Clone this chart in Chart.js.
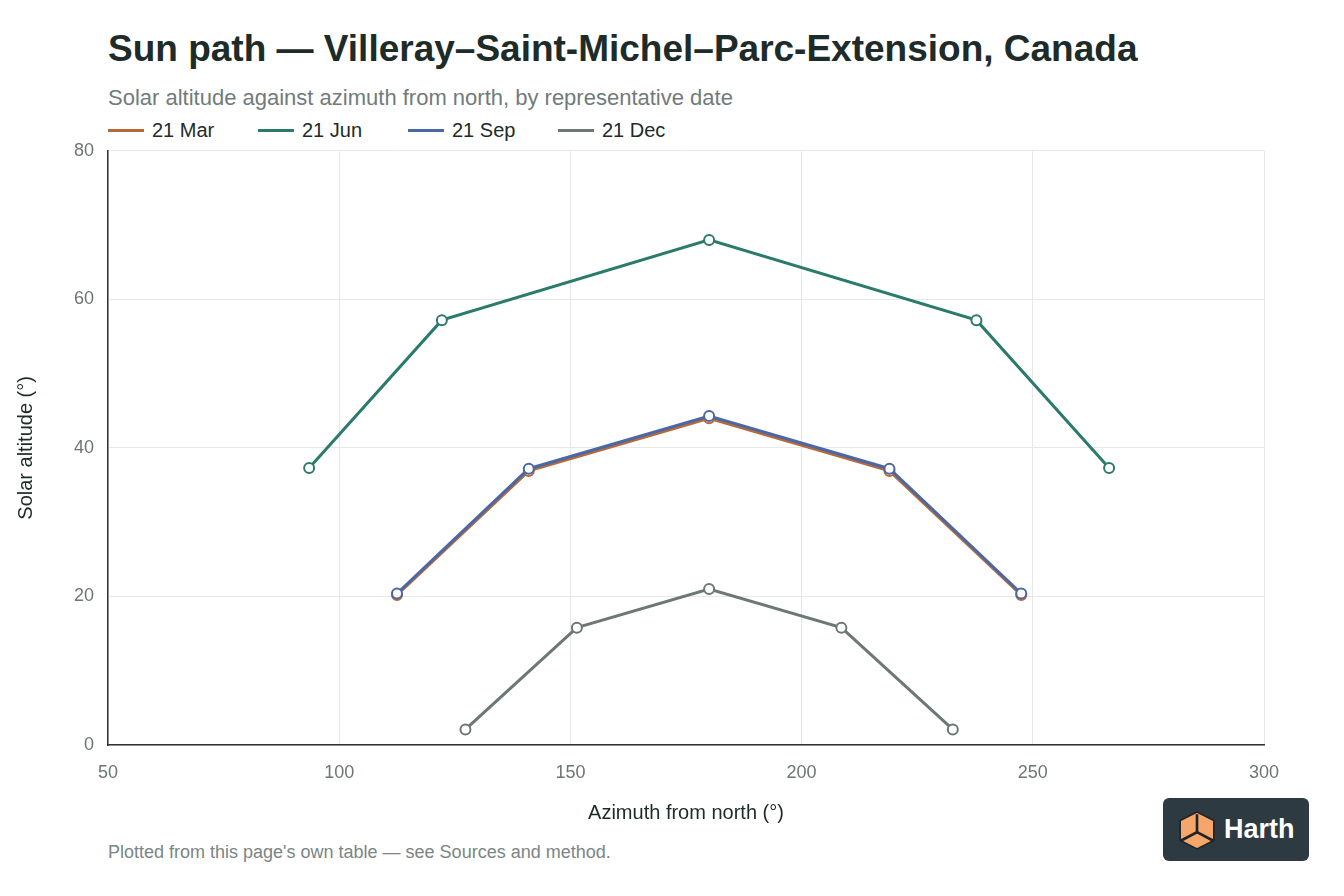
<!DOCTYPE html>
<html>
<head>
<meta charset="utf-8">
<script src="https://cdn.jsdelivr.net/npm/chart.js@4.4.1/dist/chart.umd.min.js"></script>
<style>
	body { margin: 0; width: 1344px; height: 896px; background: #fff; font-family: "Liberation Sans", Arial, sans-serif; position: relative; overflow: hidden; }
	#title { position: absolute; left: 108px; top: 28px; font-size: 37px; font-weight: bold; color: #1d2b29; white-space: nowrap; }
	#subtitle { position: absolute; left: 108px; top: 85px; font-size: 22px; color: #717c7a; white-space: nowrap; }
	#legend { position: absolute; left: 108px; top: 119px; display: flex; }
	.item { width: 150px; display: flex; align-items: center; font-size: 20px; color: #1d2b29; }
	.swatch { width: 36px; height: 3px; margin-right: 8px; }
	#wrap { position: absolute; left: 0; top: 126px; width: 1344px; height: 703px; }
	#footer { position: absolute; left: 108px; top: 842px; font-size: 18px; color: #7a8684; white-space: nowrap; }
	#logo { position: absolute; left: 1163px; top: 798px; width: 146px; height: 63px; background: #2e3a41; border-radius: 6px; display: flex; align-items: center; }
	#logo span { color: #fff; font-weight: bold; font-size: 27px; margin-left: 6px; }
</style>
</head>
<body>
<div id="title">Sun path — Villeray–Saint-Michel–Parc-Extension, Canada</div>
<div id="subtitle">Solar altitude against azimuth from north, by representative date</div>
<div id="legend"></div>
<div id="wrap"><canvas id="sunChart"></canvas></div>
<div id="footer">Plotted from this page's own table — see Sources and method.</div>
<div id="logo">
	<svg width="42" height="42" viewBox="0 0 40 40" style="margin-left:13px">
		<polygon points="20,3 36,11 36,30 20,38 4,30 4,11" fill="#f5a66a" stroke="#1f2326" stroke-width="1.5"/>
		<polyline points="20,5 20,22 5,30" fill="none" stroke="#1f2326" stroke-width="2.5"/>
		<polyline points="20,22 35,30" fill="none" stroke="#1f2326" stroke-width="2.5"/>
	</svg>
	<span>Harth</span>
</div>
<script>
// Series labels and colours
const seriesLabels = ["21 Mar", "21 Jun", "21 Sep", "21 Dec"];
const seriesColors = ["#b8693a", "#2a7b6b", "#4a68a6", "#6c7875"];

// Azimuth (deg from north) and altitude (deg)
const marAzimuth = [112.5, 141, 180, 219, 247.5];
const marAltitude = [20.2, 36.9, 44.0, 36.9, 20.2];
const junAzimuth = [93.5, 122.2, 180, 237.8, 266.5];
const junAltitude = [37.3, 57.2, 68.0, 57.2, 37.3];
const sepAzimuth = [112.5, 141, 180, 219, 247.5];
const sepAltitude = [20.4, 37.2, 44.3, 37.2, 20.4];
const decAzimuth = [127.3, 151.4, 180, 208.6, 232.7];
const decAltitude = [2.1, 15.8, 21.0, 15.8, 2.1];

// Axis ranges
const xTicks = [50, 100, 150, 200, 250, 300];
const yTicks = [0, 20, 40, 60, 80];

function toPoints(xs, ys) {
	return xs.map((x, i) => ({ x: x, y: ys[i] }));
}

const seriesData = [
	toPoints(marAzimuth, marAltitude),
	toPoints(junAzimuth, junAltitude),
	toPoints(sepAzimuth, sepAltitude),
	toPoints(decAzimuth, decAltitude),
];
// Sep sits on top of Mar in the picture
const drawOrder = [4, 3, 1, 2];

const datasets = seriesLabels.map((label, i) => ({
	label: label,
	data: seriesData[i],
	showLine: true,
	borderColor: seriesColors[i],
	backgroundColor: "#ffffff",
	borderWidth: 3,
	pointRadius: 5,
	pointBorderWidth: 2,
	pointBackgroundColor: "#ffffff",
	pointBorderColor: seriesColors[i],
	order: drawOrder[i],
}));

// Legend built from the datasets
const legendBox = document.getElementById("legend");
datasets.forEach((ds) => {
	const item = document.createElement("div");
	item.className = "item";
	const sw = document.createElement("div");
	sw.className = "swatch";
	sw.style.background = ds.borderColor;
	item.appendChild(sw);
	item.appendChild(document.createTextNode(ds.label));
	legendBox.appendChild(item);
});

const tickFont = { family: "'Liberation Sans', Arial, sans-serif", size: 18 };
const titleFont = { family: "'Liberation Sans', Arial, sans-serif", size: 20 };

new Chart(document.getElementById("sunChart").getContext("2d"), {
	type: "scatter",
	data: { datasets: datasets },
	options: {
		responsive: true,
		maintainAspectRatio: false,
		animation: false,
		layout: { padding: { left: 10, right: 80, top: 10, bottom: 0 } },
		plugins: {
			legend: { display: false },
			tooltip: { enabled: false },
		},
		scales: {
			x: {
				type: "linear",
				min: xTicks[0],
				max: xTicks[xTicks.length - 1],
				afterBuildTicks: (scale) => { scale.ticks = xTicks.map((v) => ({ value: v })); },
				afterFit: (scale) => { scale.height = 84; },
				ticks: { color: "#6c7674", font: tickFont, padding: 17 },
				grid: { color: "#e6e9e8", drawTicks: false },
				border: { color: "#2f3433", width: 1.5 },
				title: { display: true, text: "Azimuth from north (°)", color: "#1d2b29", font: titleFont, padding: { top: 6 } },
			},
			y: {
				min: yTicks[0],
				max: yTicks[yTicks.length - 1],
				afterBuildTicks: (scale) => { scale.ticks = yTicks.map((v) => ({ value: v })); },
				afterFit: (scale) => { scale.width = 98; },
				ticks: { color: "#6c7674", font: tickFont, padding: 14 },
				grid: { color: "#e6e9e8", drawTicks: false },
				border: { color: "#2f3433", width: 1.5 },
				title: { display: true, text: "Solar altitude (°)", color: "#1d2b29", font: titleFont, padding: { bottom: 0 } },
			},
		},
	},
});
</script>
</body>
</html>
